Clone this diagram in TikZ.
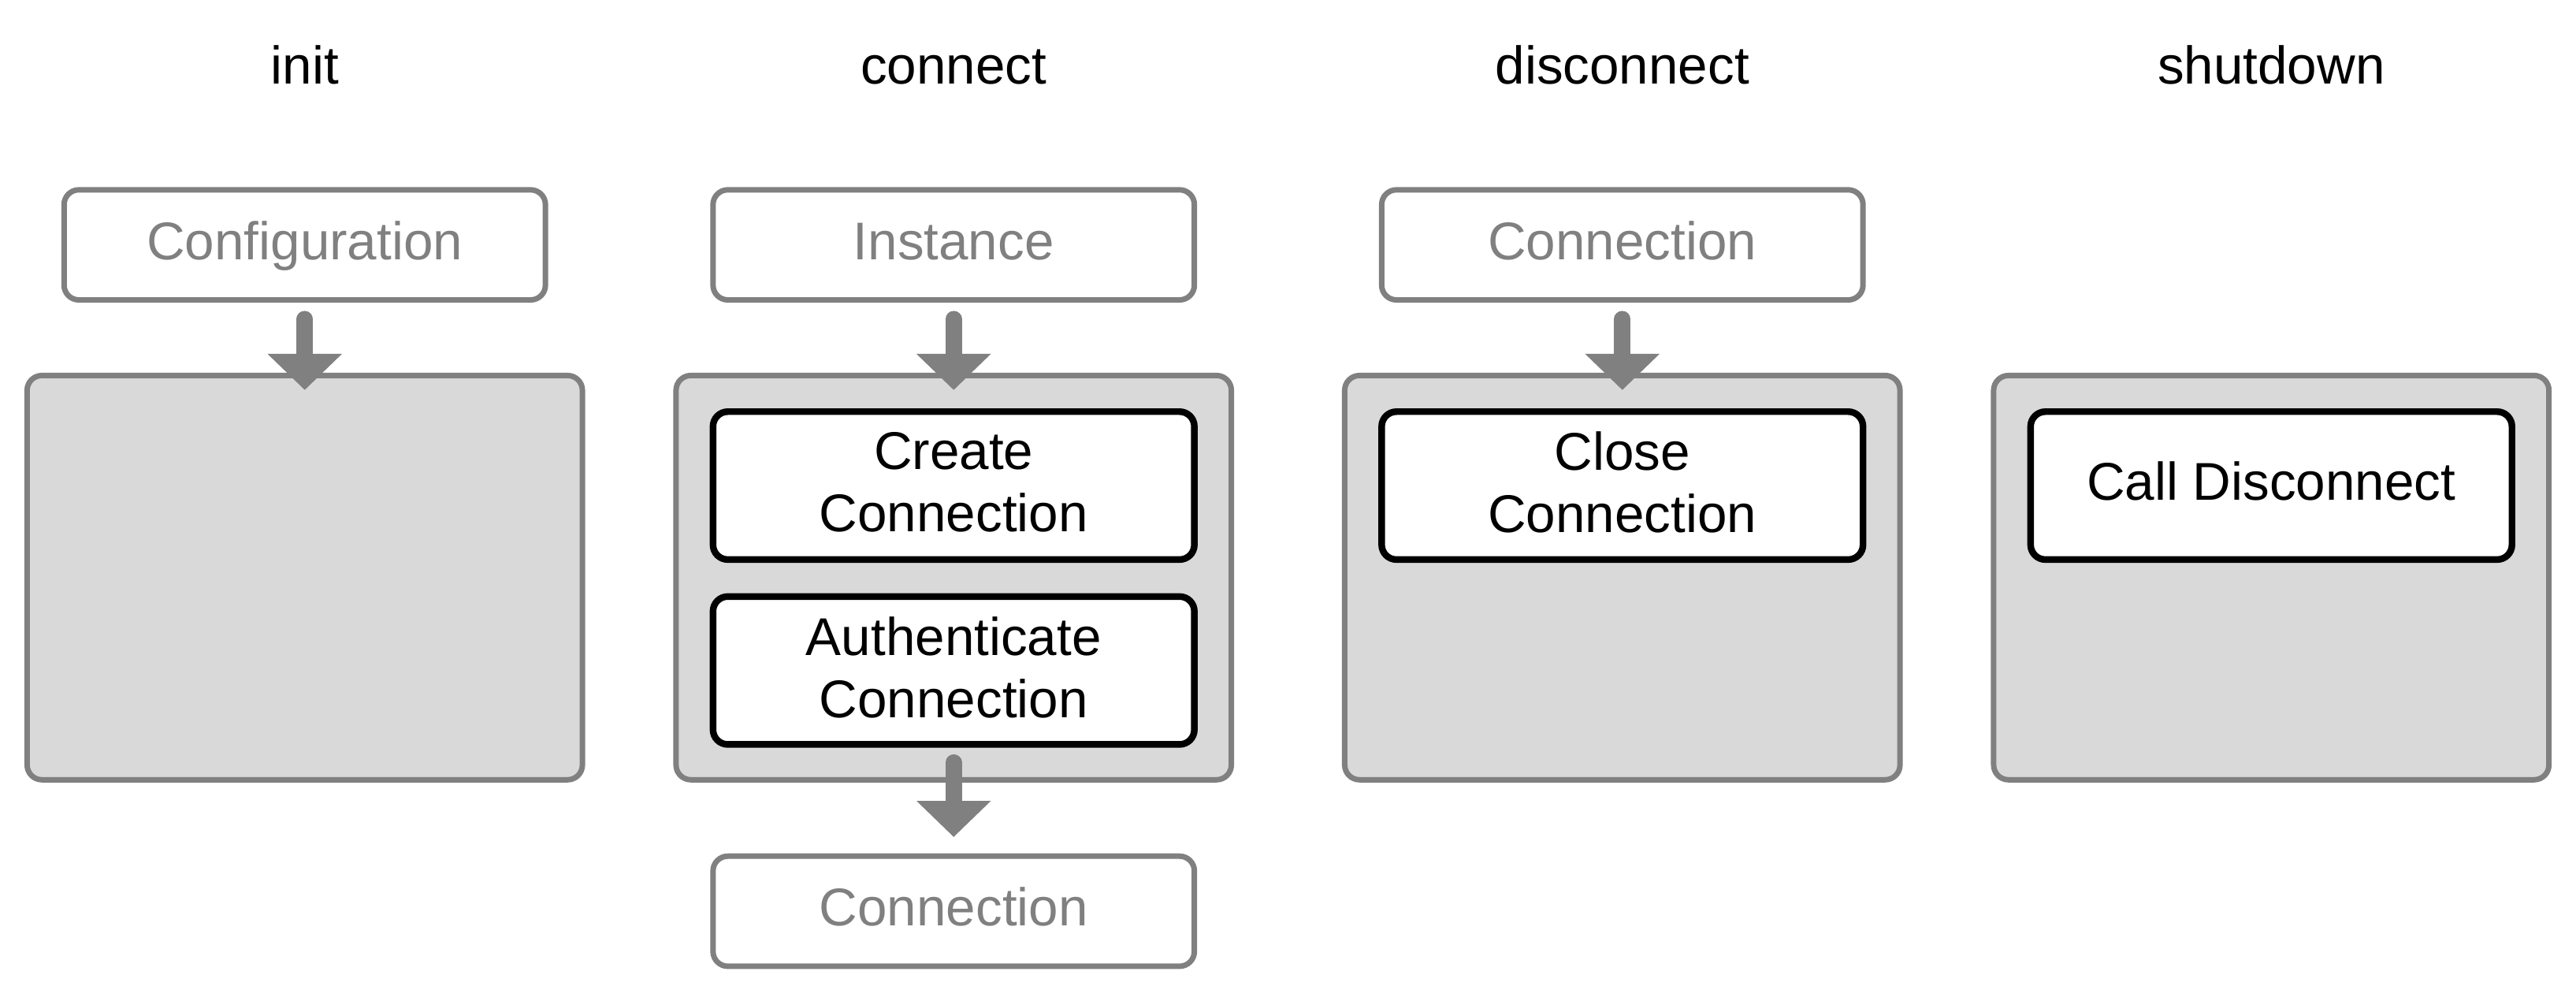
\documentclass[tikz,border=0pt]{standalone}
\usepackage{fontspec}
\setmainfont{Liberation Sans}
\usetikzlibrary{arrows.meta,positioning}
\definecolor{linegray}{HTML}{808080}
\definecolor{boxgray}{HTML}{D9D9D9}

\begin{document}
\begin{tikzpicture}[every node/.style={font=\fontsize{9.2}{10.8}\selectfont,align=center,inner sep=2pt},
  phasebox/.style={draw=linegray,fill=boxgray,line width=0.95pt,rounded corners=0.09cm,minimum width=3.38cm,minimum height=2.46cm},
  objbox/.style={draw=linegray,fill=white,text=linegray,line width=0.95pt,rounded corners=0.09cm,minimum width=2.93cm,minimum height=0.67cm,text height=0.72em,text depth=0.21em},
  taskbox/.style={draw=black,fill=white,line width=1.15pt,rounded corners=0.09cm,minimum width=2.93cm,minimum height=0.9cm,text depth=0.12em},
  flowarrow/.style={draw=linegray,line width=0.1cm,line cap=round,-{Triangle[width=0.44cm,length=0.22cm]}}]
  \useasboundingbox (0,0) rectangle (15.68,6.02);

  \node[anchor=base] (tinit) at (1.855,5.51) {init};
  \node[anchor=base] (tconn) at (5.805,5.51) {connect};
  \node[anchor=base] (tdisc) at (9.875,5.51) {disconnect};
  \node[anchor=base] (tshut) at (13.825,5.51) {shutdown};

  \node[phasebox] (initph) at (1.855,2.505) {};
  \node[phasebox] (connph) at (5.805,2.505) {};
  \node[phasebox] (discph) at (9.875,2.505) {};
  \node[phasebox] (shutph) at (13.825,2.505) {};

  \node[objbox] (cfg)  at (1.855,4.53) {Configuration};
  \node[objbox] (inst) at (5.805,4.53) {Instance};
  \node[objbox] (dconn) at (9.875,4.53) {Connection};
  \node[objbox] (cout) at (5.805,0.475) {Connection};

  \node[taskbox] (create) at (5.805,3.065) {Create\\Connection};
  \node[taskbox] (auth)   at (5.805,1.94) {Authenticate\\Connection};
  \node[taskbox] (close)  at (9.875,3.065) {Close\\Connection};
  \node[taskbox,text height=0.72em,text depth=0.21em] (call) at (13.825,3.065) {Call Disconnect};

  \draw[flowarrow,shorten <=0.1cm,shorten >=-0.105cm] (cfg) -- (initph.north);
  \draw[flowarrow,shorten <=0.1cm,shorten >=-0.105cm] (inst) -- (connph.north);
  \draw[flowarrow,shorten <=0.1cm,shorten >=-0.105cm] (dconn) -- (discph.north);
  \draw[flowarrow,shorten <=0.09cm,shorten >=0.1cm] (auth) -- (cout);
\end{tikzpicture}
\end{document}
